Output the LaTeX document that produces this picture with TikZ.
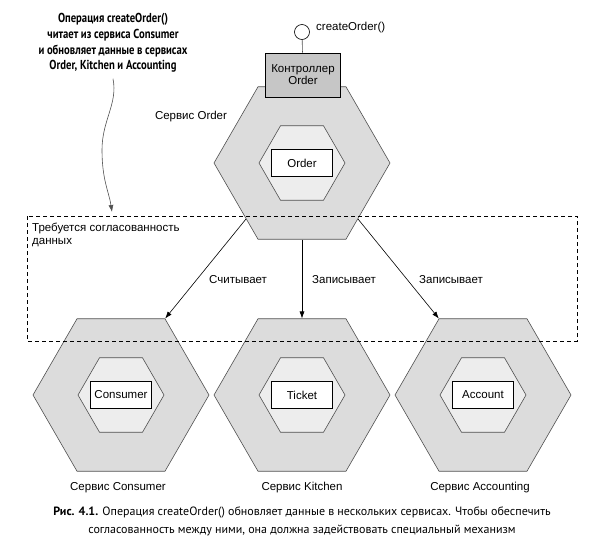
\documentclass[tikz,border=0pt]{standalone}
\usepackage{fontspec}
\setmainfont{Liberation Sans}
% Letra estrecha para la nota y el pie de figura
\newfontfamily\notafont[FakeStretch=0.82]{PT Sans}
\newfontfamily\piefont{PT Sans}
\usetikzlibrary{shapes.geometric,arrows.meta}

\definecolor{grisext}{RGB}{220,220,220}
\definecolor{grisint}{RGB}{237,237,237}
\definecolor{grisctrl}{RGB}{198,198,198}
\definecolor{borde}{RGB}{80,80,80}

\tikzset{
  hexext/.style={regular polygon, regular polygon sides=6, minimum size=176pt, inner sep=0pt, draw=borde, fill=grisext, line width=0.6pt},
  hexint/.style={regular polygon, regular polygon sides=6, minimum size=86pt, inner sep=0pt, draw=borde, fill=grisint, line width=0.6pt},
  texto/.style={font=\fontsize{11.5}{13}\selectfont, inner sep=0pt},
  entidad/.style={draw, fill=white, line width=0.8pt, minimum width=61pt, minimum height=27pt, inner sep=0pt, texto},
  flecha/.style={-{Latex[length=7pt,width=5pt]}, line width=0.6pt},
}

\begin{document}
\begin{tikzpicture}[x=1pt,y=-1pt]
% Fijamos el tamano del dibujo (en puntos, como la imagen original)
\useasboundingbox (0,0) rectangle (611,544);

% Nota de arriba a la izquierda
\node[font=\notafont\fontsize{13}{15.7}\selectfont\bfseries, align=center, inner sep=0pt] (nota) at (113,43) {Операция createOrder()\\читает из сервиса Consumer\\и обновляет данные в сервисах\\Order, Kitchen и Accounting};

% Servicio Order, con su controlador encima
\node[hexext] (hexorder) at (302,163) {};
\node[hexint] (inorder) at (302,163) {};
\node[entidad] (order) at (302,163) {Order};
\node[texto] (lblorder) at (191,117) {Сервис Order};

\node[circle, draw, fill=white, minimum size=15pt, inner sep=0pt, line width=0.6pt] (iface) at (302,32) {};
\node[draw, fill=grisctrl, line width=0.8pt, minimum width=75pt, minimum height=44pt, align=center, texto, font=\fontsize{11.5}{12}\selectfont] (ctrl) at (303,75) {Контроллер\\Order};
\draw[line width=0.6pt, draw=borde] (iface) -- (ctrl);
\node[texto, anchor=west] (lbliface) at (316,28) {createOrder()};

% Los tres servicios de abajo
\node[hexext] (hexconsumer) at (121,395) {};
\node[hexint] (inconsumer) at (121,395) {};
\node[entidad] (consumer) at (121,395) {Consumer};
\node[texto] (lblconsumer) at (118,488) {Сервис Consumer};

\node[hexext] (hexkitchen) at (302,395) {};
\node[hexint] (inkitchen) at (302,395) {};
\node[entidad] (ticket) at (302,395) {Ticket};
\node[texto] (lblkitchen) at (302,488) {Сервис Kitchen};

\node[hexext] (hexaccounting) at (483,395) {};
\node[hexint] (inaccounting) at (483,395) {};
\node[entidad] (account) at (483,395) {Account};
\node[texto] (lblaccounting) at (480,488) {Сервис Accounting};

% Zona que necesita consistencia (va por encima de los hexagonos)
\draw[dash pattern=on 4pt off 3pt, line width=0.6pt] (27,216) rectangle (577,341);
\node[texto, anchor=north west, align=left] (lblzona) at (32,223) {Требуется согласованность\\данных};

% Flechas de lectura y escritura
\draw[flecha] (hexorder.225) -- (hexconsumer.60);
\draw[flecha] (hexorder.south) -- (hexkitchen.north);
\draw[flecha] (hexorder.315) -- (hexaccounting.120);
\node[texto, anchor=west] (lblleer) at (209,280) {Считывает};
\node[texto, anchor=west] (lblescr1) at (312,280) {Записывает};
\node[texto, anchor=west] (lblescr2) at (419,280) {Записывает};

% Flecha ondulada desde la nota
\coordinate (notafin) at (112,212);
\draw[flecha, draw=borde] ([yshift=-6pt]nota.south) .. controls +(5,25) and +(0,-30) .. (102,150) .. controls +(0,30) and +(-3,-20) .. (notafin);

% Pie de figura
\node[font=\piefont\fontsize{12}{18}\selectfont, align=center, inner sep=0pt] (pie) at (302,521) {\textbf{Рис. 4.1.} Операция createOrder() обновляет данные в нескольких сервисах. Чтобы обеспечить\\согласованность между ними, она должна задействовать специальный механизм};
\end{tikzpicture}
\end{document}
